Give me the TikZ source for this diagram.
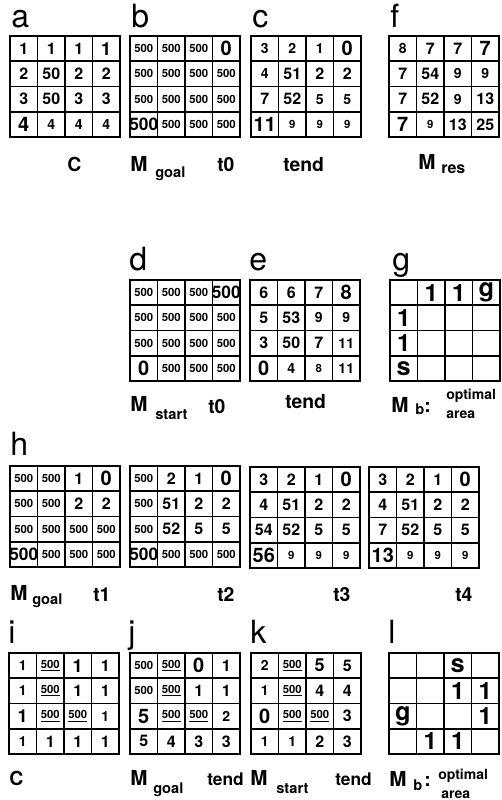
\documentclass[tikz,border=0pt]{standalone}
\usepackage{fontspec}
\setmainfont{TeX Gyre Heros}
\newcommand\cellfs[2]{{\fontsize{#1}{#1}\selectfont #2}}
\newcommand\Sm[1]{\cellfs{8.5}{#1}}
\newcommand\Md[1]{\cellfs{10.5}{#1}}
\newcommand\Lg[1]{\cellfs{13.5}{#1}}
\newcommand\Bg[1]{\cellfs{15}{#1}}
\newcommand\Bgs[1]{\cellfs{13}{#1}}
\newcommand\Un[1]{\cellfs{8.5}{\underline{#1}}}
\newcommand\Tl{\cellfs{18}{1}}
\newcommand\Gl[1]{\cellfs{19}{#1}}
\newcommand\drawmat[4]{%
  \begin{scope}[shift={(#2,#3)}]
    \foreach \k in {1,2,3}{
      \draw[cellline] (\k*27.5,0) -- (\k*27.5,101);
      \draw[cellline] (0,\k*25.25) -- (110,\k*25.25);
    }
    \draw[frameline] (0,0) rectangle (110,101);
    \foreach \v [count=\i from 0] in {#4}{
      \pgfmathtruncatemacro\cc{mod(\i,4)}
      \pgfmathtruncatemacro\rr{div(\i,4)}
      \node[num] (#1-\i) at ({(\cc+0.5)*27.5},{(\rr+0.5)*25.25}) {\v};
    }
  \end{scope}}
\begin{document}
\begin{tikzpicture}[x=0.75pt,y=-0.75pt,
  cellline/.style={line width=1.2pt},
  frameline/.style={line width=1.6pt},
  num/.style={font=\bfseries\fontsize{12}{12}\selectfont, inner sep=0pt},
  lab/.style={anchor=base west, inner sep=0pt},
  panel/.style={lab, font=\fontsize{24}{24}\selectfont},
  bigM/.style={lab, font=\bfseries\fontsize{15.5}{15.5}\selectfont},
  subs/.style={lab, font=\bfseries\fontsize{11}{11}\selectfont},
  tlab/.style={lab, font=\bfseries\fontsize{14.5}{14.5}\selectfont},
  small/.style={lab, font=\bfseries\fontsize{10.5}{10.5}\selectfont}]
\fill[white] (0,0) rectangle (501,800);
\useasboundingbox (0,0) rectangle (501,800);

% ---------- row 1 ----------
\node[panel] (pa) at (11,27) {a};
\node[panel] (pb) at (131,27) {b};
\node[panel] (pc) at (252,27) {c};
\node[panel] (pf) at (390,27) {f};
\drawmat{a}{10}{36}{1,1,1,\Lg{1}, 2,50,2,2, 3,50,3,3, \Bg{4},\Md{4},\Md{4},\Md{4}}
\drawmat{b}{130}{36}{\Sm{500},\Sm{500},\Sm{500},\Bg{0}, \Sm{500},\Sm{500},\Sm{500},\Sm{500}, \Sm{500},\Sm{500},\Sm{500},\Sm{500}, \Bgs{500},\Sm{500},\Sm{500},\Sm{500}}
\drawmat{c}{251}{36}{\Md{3},\Md{2},\Md{1},\Bg{0}, \Md{4},51,2,2, 7,52,\Md{5},\Md{5}, \Bg{11},\Sm{9},\Sm{9},\Sm{9}}
\drawmat{f}{389}{36}{\Md{8},7,7,\Bg{7}, 7,54,\Md{9},\Md{9}, 7,52,\Md{9},13, \Bg{7},\Sm{9},13,25}
\node[lab, font=\bfseries\fontsize{14.5}{14.5}\selectfont] (lC1) at (67,171) {C};
\node[bigM] (lM1) at (130,171) {M};
\node[subs] (lg1) at (155,177) {goal};
\node[tlab] (lt01) at (217,171) {t0};
\node[tlab] (lte1) at (283,171) {tend};
\node[bigM] (lM2) at (418,169) {M};
\node[lab, font=\bfseries\fontsize{12}{12}\selectfont] (lres) at (441,173) {res};

% ---------- row 2 ----------
\node[panel] (pd) at (129,270) {d};
\node[panel] (pe) at (249,270) {e};
\node[panel] (pg) at (392,270) {g};
\drawmat{d}{130}{280}{\Sm{500},\Sm{500},\Sm{500},\Bgs{500}, \Sm{500},\Sm{500},\Sm{500},\Sm{500}, \Sm{500},\Sm{500},\Sm{500},\Sm{500}, \Bg{0},\Sm{500},\Sm{500},\Sm{500}}
\drawmat{e}{250}{280}{6,6,7,\Bg{8}, 5,53,\Md{9},\Md{9}, 3,50,7,\Md{11}, \Bg{0},\Md{4},\Sm{8},\Md{11}}
\drawmat{g}{390}{280}{{},\Tl,\Tl,\Gl{g}, \Tl,{},{},{}, \Tl,{},{},{}, \Gl{s},{},{},{}}
\node[bigM] (lM3) at (130,411) {M};
\node[subs] (lst1) at (155,419) {start};
\node[tlab] (lt02) at (208,413) {t0};
\node[tlab] (lte2) at (285,408) {tend};
\node[bigM] (lM4) at (391,412) {M};
\node[subs] (lb1) at (415,414) {b};
\node[tlab] (lcol1) at (424,412) {:};
\node[small] (lop1) at (446,399) {optimal};
\node[small] (lar1) at (446,418) {area};

% ---------- row 3 ----------
\node[panel] (ph) at (10,455) {h};
\drawmat{h1}{10}{466}{\Sm{500},\Sm{500},1,\Bg{0}, \Sm{500},\Sm{500},2,2, \Sm{500},\Sm{500},\Sm{500},\Sm{500}, \Bgs{500},\Sm{500},\Sm{500},\Sm{500}}
\drawmat{h2}{130}{466}{\Sm{500},2,1,\Bg{0}, \Sm{500},51,2,2, \Sm{500},52,5,5, \Bgs{500},\Sm{500},\Sm{500},\Sm{500}}
\drawmat{h3}{250}{467}{3,2,1,\Bg{0}, 4,51,2,2, 54,52,5,5, \Bg{56},\Sm{9},\Sm{9},\Sm{9}}
\drawmat{h4}{369}{467}{3,2,1,\Bg{0}, 4,51,2,2, 7,52,5,5, \Bg{13},\Sm{9},\Sm{9},\Sm{9}}
\node[bigM] (lM5) at (10,600) {M};
\node[subs] (lg2) at (32,604) {goal};
\node[tlab] (lt1) at (93,601) {t1};
\node[tlab] (lt2) at (217,601) {t2};
\node[tlab] (lt3) at (333,601) {t3};
\node[tlab] (lt4) at (455,601) {t4};

% ---------- row 4 ----------
\node[panel] (pi) at (8,643) {i};
\node[panel] (pj) at (128,643) {j};
\node[panel] (pk) at (250,643) {k};
\node[panel] (pl) at (388,643) {l};
\drawmat{i}{9}{653}{\Md{1},\Un{500},\Lg{1},1, \Md{1},\Un{500},1,1, \Lg{1},\Un{500},\Un{500},\Md{1}, \Md{1},1,1,1}
\drawmat{j}{130}{653}{\Sm{500},\Un{500},\Bg{0},1, \Sm{500},\Un{500},1,1, \Bg{5},\Un{500},\Un{500},\Md{2}, 5,4,3,3}
\drawmat{k}{251}{653}{\Md{2},\Un{500},\Lg{5},5, \Md{1},\Un{500},4,4, \Bg{0},\Un{500},\Un{500},3, \Md{1},\Md{1},2,3}
\drawmat{l}{389}{653}{{},{},\Gl{s},{}, {},{},\Tl,\Tl, \Gl{g},{},{},\Tl, {},\Tl,\Tl,{}}
\node[lab, font=\bfseries\fontsize{14.5}{14.5}\selectfont] (lC2) at (9,785) {C};
\node[bigM] (lM6) at (130,785) {M};
\node[subs] (lg3) at (153,793) {goal};
\node[lab, font=\bfseries\fontsize{13}{13}\selectfont] (lte3) at (207,785) {tend};
\node[bigM] (lM7) at (250,785) {M};
\node[subs] (lst2) at (276,793) {start};
\node[lab, font=\bfseries\fontsize{13}{13}\selectfont] (lte4) at (335,785) {tend};
\node[bigM] (lM8) at (389,786) {M};
\node[subs] (lb2) at (413,790) {b};
\node[tlab] (lcol2) at (424,786) {:};
\node[small] (lop2) at (438,779) {optimal};
\node[small] (lar2) at (441,798) {area};
\end{tikzpicture}
\end{document}
